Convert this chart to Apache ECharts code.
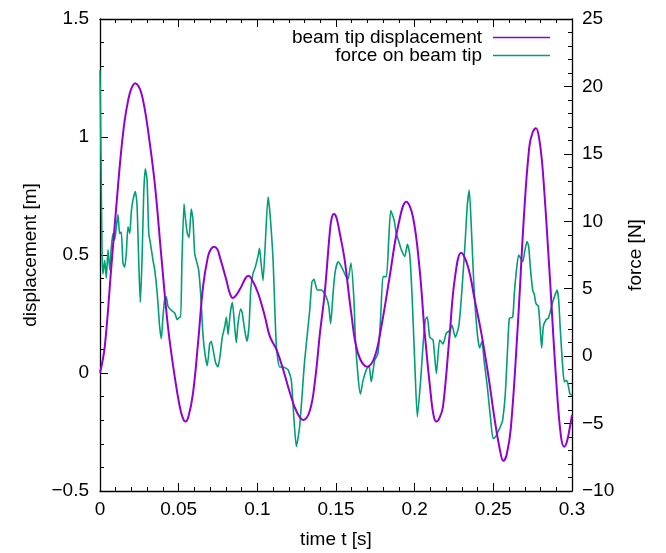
<!DOCTYPE html>
<html>
<head>
<meta charset="utf-8">
<script src="https://cdn.jsdelivr.net/npm/echarts@6/dist/echarts.min.js"></script>
<style>
html,body{margin:0;padding:0;background:#fff;}
#c{width:666px;height:553px;}
</style>
</head>
<body>
<div id="c"></div>
<script>
// ---- data ----
const xTicks = [0, 0.05, 0.1, 0.15, 0.2, 0.25, 0.3];
const yLeftTicks = [-0.5, 0, 0.5, 1, 1.5];
const yRightTicks = [-10, -5, 0, 5, 10, 15, 20, 25];

const seriesNames = ['beam tip displacement', 'force on beam tip'];

const dispT = [0,0.0030,0.0072,0.0114,0.0136,0.0157,0.0178,0.0199,0.0224,0.0245,0.0263,0.0284,0.0305,0.0348,0.0390,0.0432,0.0475,0.0507,0.0525,0.0542,0.0562,0.0591,0.0623,0.0655,0.0686,0.0705,0.0725,0.0745,0.0761,0.0803,0.0824,0.0844,0.0866,0.0898,0.0925,0.0943,0.0962,0.1005,0.1048,0.1080,0.1123,0.1165,0.1208,0.1250,0.1292,0.1335,0.1367,0.1398,0.1428,0.1460,0.1472,0.1487,0.1503,0.1524,0.1555,0.1597,0.1640,0.1699,0.1746,0.1788,0.1841,0.1894,0.1947,0.1989,0.2032,0.2064,0.2106,0.2122,0.2138,0.2158,0.2180,0.2223,0.2254,0.2296,0.2339,0.2382,0.2424,0.2466,0.2509,0.2542,0.2563,0.2585,0.2612,0.2655,0.2697,0.2729,0.2750,0.2771,0.2792,0.2814,0.2856,0.2898,0.2930,0.2951,0.2968,0.2987,0.3];
const dispV = [0,0.111,0.450,0.789,0.950,1.070,1.152,1.205,1.228,1.215,1.185,1.120,1.030,0.804,0.493,0.196,-0.016,-0.143,-0.188,-0.206,-0.185,-0.086,0.126,0.366,0.493,0.525,0.535,0.525,0.493,0.394,0.340,0.318,0.330,0.366,0.402,0.412,0.400,0.338,0.239,0.154,0.097,0.013,-0.086,-0.164,-0.199,-0.157,-0.030,0.169,0.338,0.592,0.655,0.674,0.658,0.592,0.479,0.253,0.083,0.027,0.069,0.196,0.408,0.620,0.726,0.662,0.436,0.168,-0.114,-0.185,-0.206,-0.190,-0.143,0.168,0.394,0.510,0.450,0.309,0.168,-0.001,-0.199,-0.326,-0.372,-0.345,-0.228,0.196,0.691,0.960,1.020,1.037,0.990,0.860,0.440,-0.016,-0.270,-0.312,-0.290,-0.228,-0.178];

const forceT = [0,0.0006,0.0013,0.0019,0.0030,0.0040,0.0051,0.0062,0.0072,0.0083,0.0093,0.0104,0.0114,0.0125,0.0135,0.0146,0.0157,0.0167,0.0178,0.0189,0.0199,0.0210,0.0224,0.0235,0.0246,0.0256,0.0267,0.0278,0.0288,0.0299,0.0310,0.0320,0.0337,0.0348,0.0364,0.0379,0.0390,0.0400,0.0411,0.0421,0.0432,0.0453,0.0475,0.0491,0.0507,0.0513,0.0521,0.0534,0.0542,0.0555,0.0566,0.0580,0.0591,0.0602,0.0617,0.0627,0.0640,0.0655,0.0669,0.0682,0.0697,0.0707,0.0723,0.0735,0.0750,0.0765,0.0777,0.0793,0.0803,0.0814,0.0828,0.0841,0.0856,0.0866,0.0877,0.0894,0.0904,0.0920,0.0934,0.0947,0.0958,0.0972,0.0987,0.1004,0.1014,0.1023,0.1036,0.1049,0.1068,0.1081,0.1100,0.1121,0.1142,0.1163,0.1182,0.1195,0.1216,0.1233,0.1248,0.1269,0.1301,0.1333,0.1347,0.1360,0.1381,0.1407,0.1438,0.1454,0.1466,0.1481,0.1494,0.1513,0.1532,0.1564,0.1576,0.1595,0.1614,0.1623,0.1640,0.1655,0.1672,0.1693,0.1710,0.1724,0.1746,0.1767,0.1784,0.1799,0.1820,0.1835,0.1848,0.1869,0.1883,0.1899,0.1915,0.1937,0.1954,0.1968,0.1983,0.2000,0.2017,0.2038,0.2053,0.2068,0.2080,0.2096,0.2117,0.2138,0.2159,0.2180,0.2201,0.2223,0.2237,0.2258,0.2280,0.2296,0.2318,0.2334,0.2347,0.2360,0.2377,0.2398,0.2413,0.2428,0.2441,0.2462,0.2483,0.2498,0.2513,0.2530,0.2549,0.2560,0.2576,0.2592,0.2602,0.2623,0.2633,0.2649,0.2661,0.2676,0.2687,0.2697,0.2714,0.2725,0.2735,0.2750,0.2760,0.2771,0.2786,0.2797,0.2807,0.2818,0.2835,0.2849,0.2862,0.2877,0.2894,0.2905,0.2915,0.2926,0.2941,0.2951,0.2962,0.2973,0.2987,0.3];
const forceV = [21.2,15.0,7.6,6.1,7.1,5.8,7.9,6.4,8.1,9.1,8.6,9.6,10.5,9.1,9.2,6.9,6.6,7.6,9.6,9.1,10.7,11.6,12.2,11.3,7.1,4.0,7.1,12.1,13.9,13.1,9.1,8.4,7.1,6.4,4.6,2.2,1.3,2.9,4.2,4.4,3.7,3.4,3.2,2.7,2.9,2.9,7.1,11.3,10.3,9.1,8.8,10.9,10.1,7.6,6.9,6.4,4.6,1.5,0.0,-0.7,0.9,1.1,0.2,-0.5,-0.8,0.2,1.4,2.2,2.9,1.6,3.2,4.0,2.2,1.0,2.4,3.5,3.2,1.9,1.1,2.2,4.9,6.1,6.6,7.4,8.0,7.0,5.6,8.0,11.8,10.5,7.1,0.7,-0.8,-0.8,-0.9,-1.0,-1.8,-4.7,-6.7,-5.2,-0.3,3.4,5.5,5.7,4.9,4.9,4.4,3.7,2.4,4.6,6.2,7.0,6.7,5.9,5.7,6.9,4.2,1.3,-1.5,-2.8,-1.8,-1.0,-0.7,-1.9,-0.3,0.2,2.9,5.9,5.9,8.6,10.8,10.1,9.1,8.5,7.9,7.4,8.3,7.6,4.6,-0.3,-4.5,-1.8,0.8,2.7,2.9,1.4,1.2,-1.3,1.2,0.9,1.7,1.9,2.3,1.4,2.2,4.2,7.9,11.1,12.3,9.6,5.1,1.7,0.6,1.1,-0.3,-2.3,-4.7,-6.1,-6.0,-5.6,-5.1,-4.7,-2.8,0.9,2.8,2.9,4.6,6.6,7.5,7.2,7.0,7.6,8.5,8.1,6.6,4.9,4.6,3.9,3.7,2.2,0.6,2.2,2.7,2.8,3.3,4.0,4.6,4.9,4.2,1.9,-0.8,-1.9,-1.8,-2.0,-2.8,-2.9];

// ---- chart ----
const FONT = "'Liberation Sans', Arial, sans-serif";
const FS = 19;
const fmtNum = v => {
  const r = Math.round(v * 1000) / 1000;
  return r < 0 ? '\u2212' + String(Math.abs(r)) : String(r);
};
const step = a => Math.round((a[1] - a[0]) * 1e6) / 1e6;

const axisCommon = {
  axisLine: { show: true, onZero: false, lineStyle: { color: '#000', width: 1.3 } },
  axisTick: { show: true, inside: true, length: 8, lineStyle: { color: '#000', width: 1 } },
  minorTick: { show: true, splitNumber: 5, length: 4, lineStyle: { color: '#000', width: 1 } },
  splitLine: { show: false },
  minorSplitLine: { show: false },
  axisLabel: { color: '#000', fontFamily: FONT, fontSize: FS, formatter: fmtNum },
  nameTextStyle: { color: '#000', fontFamily: FONT, fontSize: FS }
};

const legendCommon = {
  right: 116, padding: 0, align: 'right',
  icon: 'rect', itemWidth: 57, itemHeight: 1.6,
  textStyle: { color: '#000', fontFamily: FONT, fontSize: FS, padding: [0, 6, 0, 0] }
};

const chart = echarts.init(document.getElementById('c'), null, { renderer: 'canvas' });
chart.setOption({
  animation: false,
  backgroundColor: '#fff',
  grid: { left: 100, right: 94, top: 19, bottom: 62, containLabel: false, outerBoundsMode: 'none' },
  legend: [
    Object.assign({}, legendCommon, { data: [seriesNames[0]], top: 28 }),
    Object.assign({}, legendCommon, { data: [seriesNames[1]], top: 46 })
  ],
  xAxis: [
    Object.assign({}, axisCommon, {
      type: 'value', position: 'bottom',
      min: xTicks[0], max: xTicks[xTicks.length - 1], interval: step(xTicks),
      name: 'time t [s]', nameLocation: 'middle', nameGap: 39,
      axisLabel: Object.assign({}, axisCommon.axisLabel, { margin: 9 })
    }),
    Object.assign({}, axisCommon, {
      type: 'value', position: 'top',
      min: xTicks[0], max: xTicks[xTicks.length - 1], interval: step(xTicks),
      axisLabel: { show: false }
    })
  ],
  yAxis: [
    Object.assign({}, axisCommon, {
      type: 'value', position: 'left',
      min: yLeftTicks[0], max: yLeftTicks[yLeftTicks.length - 1], interval: step(yLeftTicks),
      name: 'displacement [m]', nameLocation: 'middle', nameGap: 60, nameRotate: 90,
      axisLabel: Object.assign({}, axisCommon.axisLabel, { margin: 11 })
    }),
    Object.assign({}, axisCommon, {
      type: 'value', position: 'right', alignTicks: false,
      min: yRightTicks[0], max: yRightTicks[yRightTicks.length - 1], interval: step(yRightTicks),
      name: 'force [N]', nameLocation: 'middle', nameGap: 54, nameRotate: 90,
      axisLabel: Object.assign({}, axisCommon.axisLabel, { margin: 10 })
    })
  ],
  series: [
    {
      name: seriesNames[0], type: 'line', xAxisIndex: 0, yAxisIndex: 0,
      data: dispT.map((t, i) => [t, dispV[i]]),
      smooth: 0.4, showSymbol: false, symbol: 'none',
      lineStyle: { color: '#9400d3', width: 2 }, itemStyle: { color: '#9400d3' },
      z: 3
    },
    {
      name: seriesNames[1], type: 'line', xAxisIndex: 0, yAxisIndex: 1,
      data: forceT.map((t, i) => [t, forceV[i]]),
      smooth: 0.2, showSymbol: false, symbol: 'none',
      lineStyle: { color: '#009e73', width: 1.6 }, itemStyle: { color: '#009e73' },
      z: 2
    }
  ]
});
</script>
</body>
</html>
